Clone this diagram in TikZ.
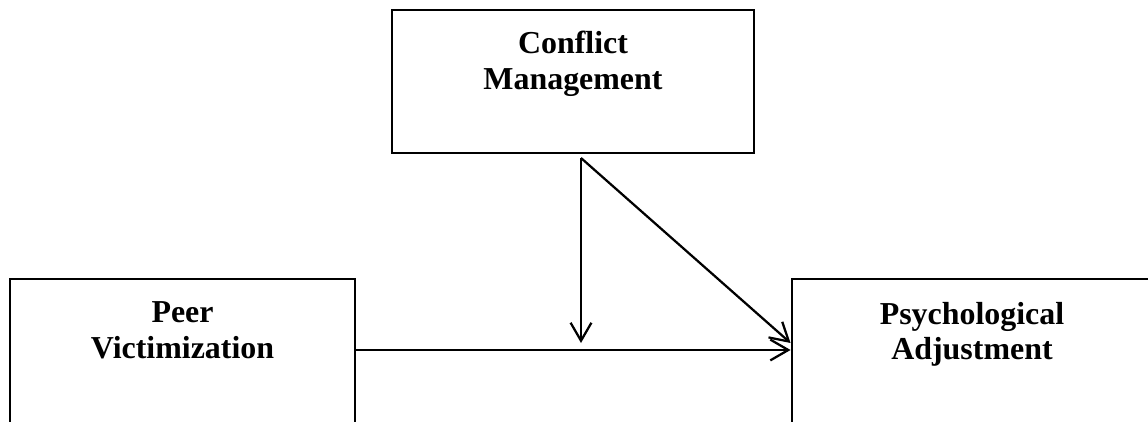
\documentclass[tikz,border=0pt]{standalone}
\usepackage{fontspec}
\setmainfont{Liberation Serif}
\usetikzlibrary{arrows.meta}
\tikzstyle{box}=[rectangle, draw, line width=2pt, inner sep=0pt]
\tikzstyle{lbl}=[align=center, inner sep=0pt, anchor=north, font=\bfseries\fontsize{22.7}{25.2}\selectfont]
\tikzstyle{arr}=[line width=1.6pt, -{Straight Barb[length=0.45cm,width=0.52cm,line width=1.6pt]}]

\begin{document}
\begin{tikzpicture}[x=0.025cm,y=-0.025cm]
  \useasboundingbox (0,0) rectangle (1148,421);
  \clip (0,0) rectangle (1148,421);
  \node[box, minimum width=9.05cm, minimum height=3.575cm] (cm) at (573,81.5) {};
  \node[box, minimum width=8.625cm, minimum height=4.5cm] (pv) at (182.5,369) {};
  \node[box, minimum width=9cm, minimum height=4.5cm] (pa) at (972,369) {};

  \node[lbl] (cmtxt) at ([yshift=-0.56cm]cm.north) {Conflict\\Management};
  \node[lbl] (pvtxt) at ([yshift=-0.6cm]pv.north) {Peer\\Victimization};
  \node[lbl] (patxt) at ([yshift=-0.6cm]pa.north) {Psychological\\Adjustment};

  % moderator path
  \coordinate (mod) at (581,343);
  \coordinate (top) at (581,158);
    \draw[arr] (top) -- (mod);
    \draw[arr] (top) -- ([yshift=0.65cm]pa.west);
    \draw[arr] ([yshift=0.475cm]pv.east) -- ([yshift=0.475cm]pa.west);
\end{tikzpicture}
\end{document}
